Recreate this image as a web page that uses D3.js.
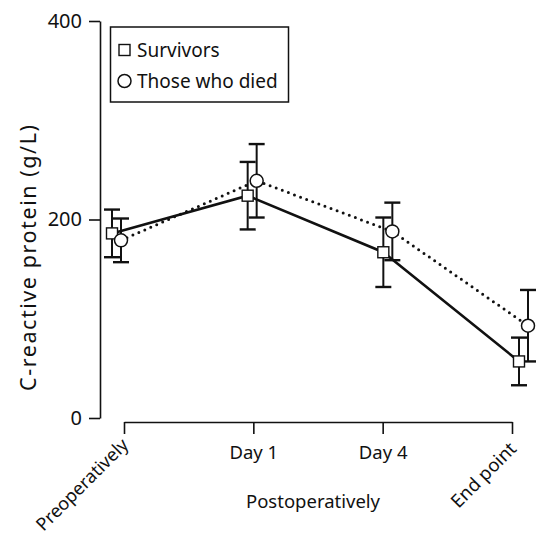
<!DOCTYPE html>
<html>
<head>
<meta charset="utf-8">
<script src="https://cdn.jsdelivr.net/npm/d3@7/dist/d3.min.js"></script>
<style>
  html, body { margin: 0; padding: 0; background: #fff; }
  svg { display: block; }
  text { font-family: "Noto Sans", sans-serif; fill: #111; }
</style>
</head>
<body>
<svg id="chart" width="547" height="537"></svg>
<script>
// Time points and C-reactive protein means with error bars
const categories = ["Preoperatively", "Day 1", "Day 4", "End point"];
const survivorsMean = [186, 224, 167, 57];
const survivorsErr = [24, 34, 35, 24];
const diedMean = [179, 239, 188, 93];
const diedErr = [22, 37, 29, 36];
const yTicks = [0, 200, 400];
const seriesNames = ["Survivors", "Those who died"];

const svg = d3.select("#chart");
const ink = "#111";

const y = d3.scaleLinear().domain([0, 400]).range([418, 21]);
const xAxisScale = d3.scalePoint().domain(categories).range([124, 512]);
const xMark = d3.scalePoint().domain(categories).range([112, 519]);

const series = [
  { name: seriesNames[0], mean: survivorsMean, err: survivorsErr, shift: 0, shape: "square", dash: null },
  { name: seriesNames[1], mean: diedMean, err: diedErr, shift: 9, shape: "circle", dash: "0 6.5" }
];

// Y axis
const yAxis = svg.append("g")
  .attr("transform", "translate(100,0)")
  .call(d3.axisLeft(y).tickValues(yTicks).tickSize(11).tickSizeOuter(0).tickPadding(7));
yAxis.selectAll("path, line").attr("stroke", ink).attr("stroke-width", 1.6);
yAxis.selectAll("text").attr("font-size", 20).attr("font-family", "Noto Sans").attr("fill", ink);

// Y axis title
svg.append("text")
  .attr("transform", "translate(36,258) rotate(-90)")
  .attr("text-anchor", "middle")
  .attr("font-size", 21.5)
  .attr("textLength", 266)
  .attr("lengthAdjust", "spacing")
  .text("C-reactive protein (g/L)");

// X axis
const xAxis = svg.append("g")
  .attr("transform", "translate(0,422)")
  .call(d3.axisBottom(xAxisScale).tickSize(12).tickSizeOuter(0).tickPadding(14));
xAxis.selectAll("path, line").attr("stroke", ink).attr("stroke-width", 1.6);
xAxis.selectAll("text")
  .attr("font-size", 18.5)
  .attr("font-family", "Noto Sans")
  .attr("fill", ink)
  .each(function (d, i) {
    const t = d3.select(this);
    if (i === 0 || i === categories.length - 1) {
      t.attr("text-anchor", "end")
        .attr("dy", null)
        .attr("y", 0)
        .attr("transform", i === 0 ? "translate(5,24) rotate(-45)" : "translate(5,28) rotate(-45)");
      if (i === 0) t.attr("font-size", 18);
    } else {
      t.attr("dy", null).attr("y", 37);
    }
  });

svg.append("text")
  .attr("x", 313)
  .attr("y", 508)
  .attr("text-anchor", "middle")
  .attr("font-size", 18.5)
  .text("Postoperatively");

// Connecting lines
series.forEach(s => {
  const line = d3.line()
    .x((d, i) => xMark(categories[i]) + s.shift)
    .y(d => y(d));
  svg.append("path")
    .datum(s.mean)
    .attr("d", line)
    .attr("fill", "none")
    .attr("stroke", ink)
    .attr("stroke-width", s.dash ? 3 : 2.6)
    .attr("stroke-linecap", s.dash ? "round" : "butt")
    .attr("stroke-dasharray", s.dash);
});

// Error bars
series.forEach(s => {
  const g = svg.append("g");
  s.mean.forEach((m, i) => {
    const cx = xMark(categories[i]) + s.shift;
    const top = y(m + s.err[i]);
    const bot = y(m - s.err[i]);
    g.append("line").attr("x1", cx).attr("x2", cx).attr("y1", top).attr("y2", bot)
      .attr("stroke", ink).attr("stroke-width", 2);
    [top, bot].forEach(yy => {
      g.append("line").attr("x1", cx - 8).attr("x2", cx + 8).attr("y1", yy).attr("y2", yy)
        .attr("stroke", ink).attr("stroke-width", 2.4);
    });
  });
});

// Markers
function drawMarker(sel, shape, cx, cy) {
  if (shape === "square") {
    sel.append("rect").attr("x", cx - 5.5).attr("y", cy - 5.5).attr("width", 11).attr("height", 11)
      .attr("fill", "#fff").attr("stroke", ink).attr("stroke-width", 1.4);
  } else {
    sel.append("circle").attr("cx", cx).attr("cy", cy).attr("r", 6.5)
      .attr("fill", "#fff").attr("stroke", ink).attr("stroke-width", 1.5);
  }
}
series.forEach(s => {
  const g = svg.append("g");
  s.mean.forEach((m, i) => drawMarker(g, s.shape, xMark(categories[i]) + s.shift, y(m)));
});

// Legend
const legend = svg.append("g");
legend.append("rect").attr("x", 110.5).attr("y", 27).attr("width", 178).attr("height", 75)
  .attr("fill", "#fff").attr("stroke", ink).attr("stroke-width", 1.5);
series.forEach((s, i) => {
  const cy = 50 + i * 31;
  drawMarker(legend, s.shape, 124.5, cy);
  legend.append("text").attr("x", 137).attr("y", cy + 7).attr("font-size", 19).text(s.name);
});
</script>
</body>
</html>
